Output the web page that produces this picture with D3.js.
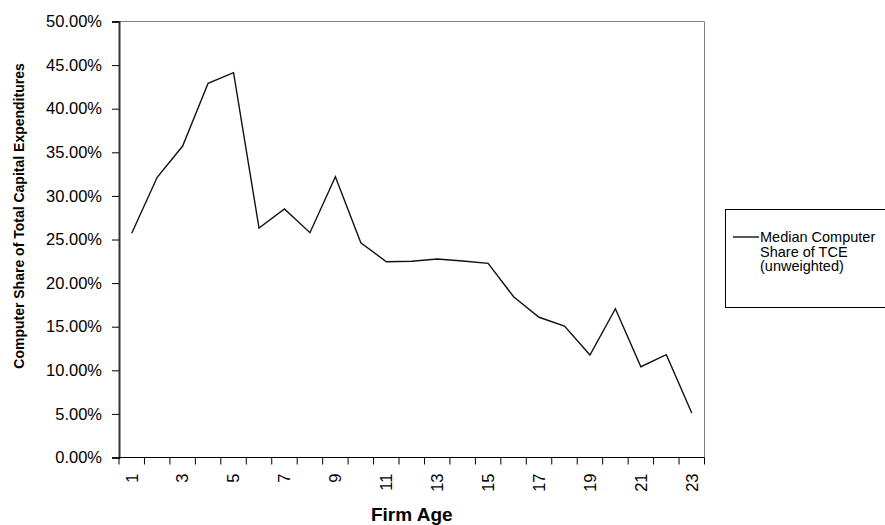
<!DOCTYPE html>
<html>
<head>
<meta charset="utf-8">
<script src="https://cdn.jsdelivr.net/npm/d3@7"></script>
<style>
  html, body { margin: 0; padding: 0; background: #fff; }
  svg { display: block; font-family: Arial, "Liberation Sans", sans-serif; }
</style>
</head>
<body>
<svg id="chart" width="885" height="525"></svg>
<script>
// Firm age categories and the median computer share of total capital expenditures
const ages = d3.range(1, 24);
const shares = [0.2571, 0.3213, 0.3572, 0.4291, 0.4413, 0.2632, 0.2850, 0.2578, 0.3220,
                0.2463, 0.2245, 0.2250, 0.2276, 0.2253, 0.2227, 0.1844, 0.1608, 0.1508,
                0.1175, 0.1706, 0.1041, 0.1179, 0.0510];
const yTicks = [0, 0.05, 0.10, 0.15, 0.20, 0.25, 0.30, 0.35, 0.40, 0.45, 0.50];
const xTickLabels = ages.filter(a => a % 2 === 1);
const seriesName = ["Median Computer", "Share of TCE", "(unweighted)"];

const svg = d3.select("#chart");
const plot = { left: 119, right: 704.5, top: 21.5, bottom: 457.5 };

const x = d3.scaleBand().domain(ages).range([plot.left, plot.right]).padding(0);
const y = d3.scaleLinear().domain([0, 0.5]).range([plot.bottom, plot.top]);

// plot area frame (top and right edges)
svg.append("path")
  .attr("d", `M${plot.left},${plot.top}H${plot.right}V${plot.bottom}`)
  .attr("fill", "none").attr("stroke", "#808080").attr("stroke-width", 1);

// y axis
const yAxis = svg.append("g")
  .attr("transform", `translate(${plot.left},0)`)
  .call(d3.axisLeft(y).tickValues(yTicks).tickFormat(d3.format(".2%")).tickSize(7).tickPadding(10));
yAxis.select(".domain").attr("stroke", "#333").attr("stroke-width", 2);
yAxis.selectAll(".tick line").attr("stroke", "#000");
yAxis.selectAll("text").attr("font-size", "16.5px").attr("fill", "#000")
  .attr("font-family", "Arial, 'Liberation Sans', sans-serif");

// x axis: ticks on the category boundaries, labels on every other category
const xAxisG = svg.append("g").attr("transform", `translate(0,${plot.bottom})`);
xAxisG.append("line")
  .attr("x1", plot.left).attr("x2", plot.right)
  .attr("stroke", "#000").attr("stroke-width", 1);
const boundaries = ages.map(a => x(a)).concat([x(ages[ages.length - 1]) + x.bandwidth()]);
xAxisG.selectAll("line.tick").data(boundaries).join("line")
  .attr("class", "tick")
  .attr("x1", d => d).attr("x2", d => d)
  .attr("y1", 0).attr("y2", 7)
  .attr("stroke", "#000");
xAxisG.selectAll("text").data(xTickLabels).join("text")
  .attr("transform", d => `translate(${x(d) + x.bandwidth() / 2},16) rotate(-90)`)
  .attr("text-anchor", "end")
  .attr("dy", "0.35em")
  .attr("font-size", "16.5px")
  .text(d => d);

// data line
const line = d3.line()
  .x((d, i) => x(ages[i]) + x.bandwidth() / 2)
  .y(d => y(d));
svg.append("path")
  .datum(shares)
  .attr("d", line)
  .attr("fill", "none")
  .attr("stroke", "#111")
  .attr("stroke-width", 1.4)
  .attr("stroke-linejoin", "miter");

// axis titles
svg.append("text")
  .attr("transform", "translate(24,216) rotate(-90)")
  .attr("text-anchor", "middle")
  .attr("font-size", "14px").attr("font-weight", "bold")
  .text("Computer Share of Total Capital Expenditures");
svg.append("text")
  .attr("x", (plot.left + plot.right) / 2).attr("y", 521)
  .attr("text-anchor", "middle")
  .attr("font-size", "19px").attr("font-weight", "bold")
  .text("Firm Age");

// legend (the box runs past the right edge of the canvas)
const legend = svg.append("g");
legend.append("rect")
  .attr("x", 725.5).attr("y", 209.5).attr("width", 200).attr("height", 98)
  .attr("fill", "#fff").attr("stroke", "#000").attr("stroke-width", 1);
legend.append("line")
  .attr("x1", 733).attr("x2", 759).attr("y1", 237).attr("y2", 237)
  .attr("stroke", "#111").attr("stroke-width", 1.4);
legend.selectAll("text.entry").data(seriesName).join("text")
  .attr("class", "entry")
  .attr("x", 760).attr("y", (d, i) => 242 + i * 14.6)
  .attr("font-size", "14.5px")
  .text(d => d);
</script>
</body>
</html>
